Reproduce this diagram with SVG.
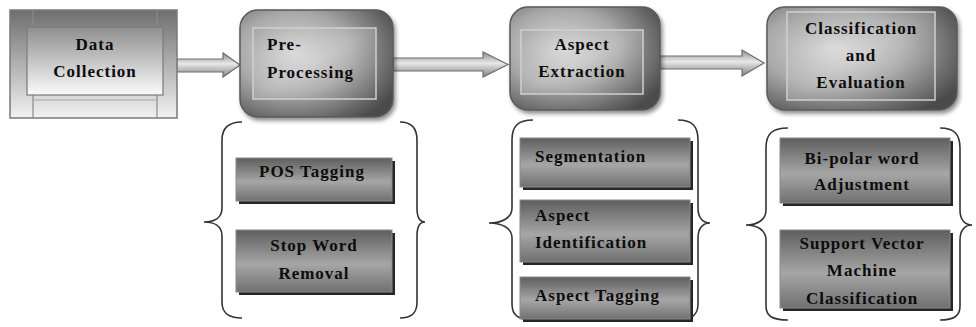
<svg xmlns="http://www.w3.org/2000/svg" width="976" height="327" viewBox="0 0 976 327">
<defs>
<radialGradient id="gMain" cx="0.35" cy="0.4" r="0.75">
<stop offset="0" stop-color="#dadada"/>
<stop offset="0.5" stop-color="#a8a8a8"/>
<stop offset="1" stop-color="#4c4c4c"/>
</radialGradient>
<linearGradient id="gInner" x1="0" y1="0" x2="1" y2="1">
<stop offset="0" stop-color="#8c8c8c" stop-opacity="0.2"/>
<stop offset="0.5" stop-color="#ffffff" stop-opacity="0.2"/>
<stop offset="1" stop-color="#7a7a7a" stop-opacity="0.2"/>
</linearGradient>
<linearGradient id="gSub" x1="0" y1="0" x2="0" y2="1">
<stop offset="0" stop-color="#5e5e5e"/>
<stop offset="0.55" stop-color="#a6a6a6"/>
<stop offset="1" stop-color="#707070"/>
</linearGradient>
<linearGradient id="gArrow" x1="0" y1="0" x2="0" y2="1">
<stop offset="0" stop-color="#8e8e8e"/>
<stop offset="0.45" stop-color="#e8e8e8"/>
<stop offset="1" stop-color="#808080"/>
</linearGradient>
<linearGradient id="gDC" x1="0" y1="0" x2="0" y2="1">
<stop offset="0" stop-color="#6e6e6e"/>
<stop offset="0.6" stop-color="#bdbdbd"/>
<stop offset="1" stop-color="#f2f2f2"/>
</linearGradient>
<linearGradient id="gDCi" x1="0" y1="0" x2="0" y2="1">
<stop offset="0" stop-color="#8e8e8e"/>
<stop offset="1" stop-color="#fbfbfb"/>
</linearGradient>
<filter id="sh" x="-10%" y="-10%" width="125%" height="130%">
<feGaussianBlur in="SourceAlpha" stdDeviation="2"/>
<feOffset dx="2" dy="3"/>
<feComponentTransfer><feFuncA type="linear" slope="0.45"/></feComponentTransfer>
<feMerge><feMergeNode/><feMergeNode in="SourceGraphic"/></feMerge>
</filter>
</defs>
<style>
text{font-family:"Liberation Serif","DejaVu Serif","Times New Roman",serif;font-weight:bold;font-size:17px;letter-spacing:1px;fill:#0c0c0c}
.c{text-anchor:middle}
.main{fill:url(#gMain);stroke:#5a5a5a;stroke-width:1.5}
.inner{fill:url(#gInner);stroke:#cfcfcf;stroke-width:1.5}
.sub{fill:url(#gSub);stroke:#8a8a8a;stroke-width:1}
.subsh{fill:#262626}
.arrow{fill:url(#gArrow);stroke:#6e6e6e;stroke-width:1.2}
.brace{fill:none;stroke:#333333;stroke-width:1.6}
</style>
<rect width="976" height="327" fill="#ffffff"/>

<g id="connectors">
<path class="arrow" d="M177,59 H223 V53 L240,65 L223,77 V72 H177 Z"/>
<path class="arrow" d="M393,58 H483 V52 L508,64.5 L483,77 V71 H393 Z"/>
<path class="arrow" d="M660,56 H742 V50 L764,63 L742,76 V69 H660 Z"/>
</g>

<g id="data-collection">
<rect x="10" y="10" width="167" height="108" fill="url(#gDC)" stroke="#7a7a7a" stroke-width="1.5"/>
<line x1="33" y1="10" x2="33" y2="118" stroke="#8a8a8a" stroke-width="1.2"/>
<line x1="157" y1="10" x2="157" y2="118" stroke="#8a8a8a" stroke-width="1.2"/>
<line x1="33" y1="100" x2="157" y2="100" stroke="#a8a8a8" stroke-width="1"/>
<rect x="27" y="27" width="136" height="68" fill="url(#gDCi)" stroke="#7a7a7a" stroke-width="1.2"/>
<text class="c" x="95" y="50">Data</text>
<text class="c" x="95" y="77">Collection</text>
</g>

<g id="pre-processing">
<rect class="main" x="240" y="10" width="153" height="107" rx="18" filter="url(#sh)"/>
<rect class="inner" x="253" y="28" width="123" height="71"/>
<text x="267" y="50">Pre-</text>
<text x="267" y="78">Processing</text>
</g>

<g id="aspect-extraction">
<rect class="main" x="510" y="7" width="150" height="103" rx="18" filter="url(#sh)"/>
<rect class="inner" x="521" y="30" width="122" height="64"/>
<text class="c" x="582" y="50">Aspect</text>
<text class="c" x="582" y="77">Extraction</text>
</g>

<g id="classification">
<rect class="main" x="767" y="7" width="190" height="103" rx="18" filter="url(#sh)"/>
<rect class="inner" x="787" y="12" width="148" height="88"/>
<text class="c" x="861" y="34">Classification</text>
<text class="c" x="861" y="61">and</text>
<text class="c" x="861" y="88">Evaluation</text>
</g>

<g id="pre-processing-steps">
<path class="brace" d="M242,122 C228,122 222,128 222,140 V208 C222,218 214,222 204,222 C214,222 222,226 222,236 V302 C222,313 228,318 242,318"/>
<path class="brace" d="M400,122 C412,122 417,128 417,140 V208 C417,218 420,222 425,222 C420,222 417,226 417,236 V302 C417,313 412,318 400,318"/>
</g>
<g id="pos-tagging">
<rect class="subsh" x="239" y="161" width="156" height="43"/>
<rect class="sub" x="236" y="158" width="156" height="43"/>
<text class="c" x="312" y="177">POS Tagging</text>
</g>
<g id="stop-word-removal">
<rect class="subsh" x="239" y="233" width="156" height="62"/>
<rect class="sub" x="236" y="230" width="156" height="62"/>
<text class="c" x="314" y="251">Stop Word</text>
<text class="c" x="314" y="279">Removal</text>
</g>

<g id="aspect-extraction-steps">
<path class="brace" d="M533,120 C518,120 512,126 512,140 V208 C512,218 502,223 489,223 C502,223 512,228 512,238 V304 C512,315 518,320 533,320"/>
<path class="brace" d="M678,120 C692,120 698,126 698,140 V208 C698,218 703,223 710,223 C703,223 698,228 698,238 V304 C698,315 692,320 678,320"/>
</g>
<g id="segmentation">
<rect class="subsh" x="523" y="141" width="170" height="49"/>
<rect class="sub" x="520" y="138" width="170" height="49"/>
<text x="535" y="162">Segmentation</text>
</g>
<g id="aspect-identification">
<rect class="subsh" x="523" y="203" width="170" height="62"/>
<rect class="sub" x="520" y="200" width="170" height="62"/>
<text x="535" y="221">Aspect</text>
<text x="535" y="248">Identification</text>
</g>
<g id="aspect-tagging">
<rect class="subsh" x="523" y="280" width="170" height="42"/>
<rect class="sub" x="520" y="277" width="170" height="42"/>
<text x="535" y="301">Aspect Tagging</text>
</g>

<g id="classification-steps">
<path class="brace" d="M788,128 C772,128 766,134 766,148 V210 C766,220 757,225 746,225 C757,225 766,230 766,240 V306 C766,316 772,320 788,320"/>
<path class="brace" d="M940,128 C954,128 960,134 960,148 V210 C960,220 965,225 972,225 C965,225 960,230 960,240 V306 C960,316 954,320 940,320"/>
</g>
<g id="bipolar-word-adjustment">
<rect class="subsh" x="783" y="141" width="170" height="65"/>
<rect class="sub" x="780" y="138" width="170" height="65"/>
<text class="c" x="862" y="164">Bi-polar word</text>
<text class="c" x="862" y="190">Adjustment</text>
</g>
<g id="svm-classification">
<rect class="subsh" x="783" y="233" width="170" height="78"/>
<rect class="sub" x="780" y="230" width="170" height="78"/>
<text class="c" x="862" y="249">Support Vector</text>
<text class="c" x="862" y="276">Machine</text>
<text class="c" x="862" y="304">Classification</text>
</g>
</svg>
